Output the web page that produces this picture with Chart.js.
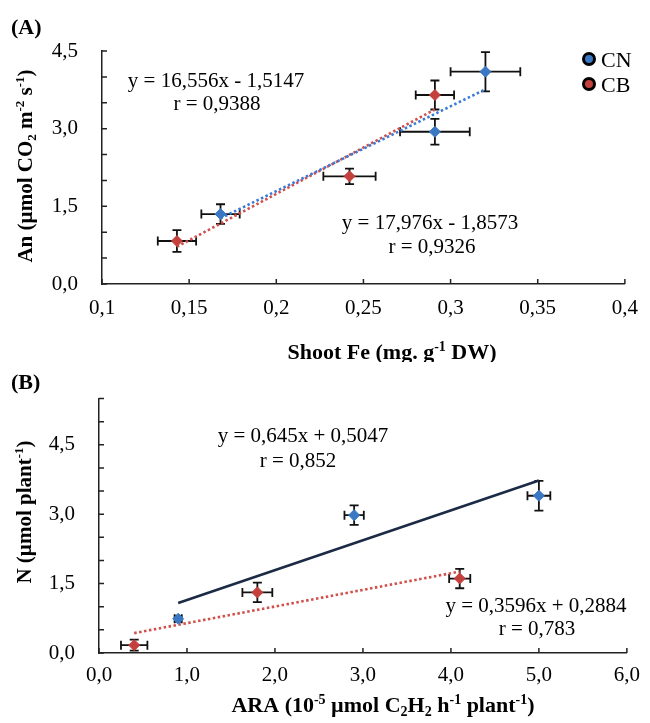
<!DOCTYPE html>
<html>
<head>
<meta charset="utf-8">
<script src="https://cdn.jsdelivr.net/npm/chart.js@4.4.0/dist/chart.umd.min.js"></script>
<style>
html, body { margin: 0; padding: 0; background: #fff; }
#wrap { position: relative; width: 650px; height: 723px; }
.pane { position: absolute; left: 0; width: 650px; }
</style>
</head>
<body>
<div id="wrap">
  <div class="pane" style="top:0;height:362px"><canvas id="chartA"></canvas></div>
  <div class="pane" style="top:362px;height:361px"><canvas id="chartB"></canvas></div>
</div>
<script>
// (A) shoot Fe vs An
const feCN = [0.168, 0.291, 0.32];
const anCN = [1.35, 2.94, 4.10];
const feErrCN = [0.011, 0.02, 0.02];
const anErrCN = [0.19, 0.25, 0.38];
const feCB = [0.143, 0.242, 0.291];
const anCB = [0.83, 2.08, 3.65];
const feErrCB = [0.011, 0.015, 0.011];
const anErrCB = [0.21, 0.15, 0.28];
const fitA_CN = [[0.168, 1.27], [0.32, 3.76]];
const fitA_CB = [[0.143, 0.72], [0.291, 3.37]];
const eqA = ['y = 16,556x - 1,5147', 'r = 0,9388', 'y = 17,976x - 1,8573', 'r = 0,9326'];

// (B) ARA vs N
const araCN = [0.9, 2.9, 5.0];
const nCN = [0.74, 2.98, 3.40];
const araErrCN = [0.04, 0.11, 0.13];
const nErrCN = [0.06, 0.21, 0.32];
const araCB = [0.4, 1.8, 4.1];
const nCB = [0.17, 1.31, 1.61];
const araErrCB = [0.15, 0.17, 0.12];
const nErrCB = [0.12, 0.21, 0.21];
const fitB_CN = [[0.9, 1.08], [5.0, 3.73]];
const fitB_CB = [[0.4, 0.43], [4.1, 1.76]];
const eqB = ['y = 0,645x + 0,5047', 'r = 0,852', 'y = 0,3596x + 0,2884', 'r = 0,783'];

const seriesNames = ['CN', 'CB'];
const BLUE = '#3b78c3', RED = '#c4403d';
const FAM = '"Liberation Serif", "Times New Roman", serif';

Chart.defaults.font.family = FAM;
Chart.defaults.color = '#000';

const pts = (xs, ys) => xs.map((x, i) => ({ x: x, y: ys[i] }));
const seg = a => a.map(p => ({ x: p[0], y: p[1] }));
const comma = s => s.replace('.', ',');

// text with sub/superscripts, parts = [[text, 0|1|-1], ...]
function rich(ctx, parts, x, y, size, bold, align) {
  const w = bold ? 'bold ' : '';
  const fnt = p => w + (p[1] ? Math.round(size * 0.62) : size) + 'px ' + FAM;
  let total = 0;
  parts.forEach(p => { ctx.font = fnt(p); total += ctx.measureText(p[0]).width; });
  let cx = align === 'center' ? x - total / 2 : x;
  ctx.textAlign = 'left';
  ctx.textBaseline = 'alphabetic';
  parts.forEach(p => {
    ctx.font = fnt(p);
    const dy = p[1] === 1 ? -size * 0.36 : (p[1] === -1 ? size * 0.18 : 0);
    ctx.fillText(p[0], cx, y + size * 0.33 + dy);
    cx += ctx.measureText(p[0]).width;
  });
}

const errorBars = {
  id: 'errorBars',
  beforeDatasetsDraw(chart) {
    const { ctx, scales: { x, y } } = chart;
    ctx.save();
    ctx.strokeStyle = '#111';
    ctx.lineWidth = 1.8;
    chart.data.datasets.forEach(ds => {
      if (!ds.xErr) return;
      ds.data.forEach((p, i) => {
        const px = x.getPixelForValue(p.x), py = y.getPixelForValue(p.y);
        const x0 = x.getPixelForValue(p.x - ds.xErr[i]), x1 = x.getPixelForValue(p.x + ds.xErr[i]);
        const y0 = y.getPixelForValue(p.y - ds.yErr[i]), y1 = y.getPixelForValue(p.y + ds.yErr[i]);
        const c = 4.5;
        ctx.beginPath();
        ctx.moveTo(x0, py); ctx.lineTo(x1, py);
        ctx.moveTo(x0, py - c); ctx.lineTo(x0, py + c);
        ctx.moveTo(x1, py - c); ctx.lineTo(x1, py + c);
        ctx.moveTo(px, y0); ctx.lineTo(px, y1);
        ctx.moveTo(px - c, y0); ctx.lineTo(px + c, y0);
        ctx.moveTo(px - c, y1); ctx.lineTo(px + c, y1);
        ctx.stroke();
      });
    });
    ctx.restore();
  }
};

// small tick marks pointing into the plot
const innerTicks = {
  id: 'innerTicks',
  afterDraw(chart) {
    const { ctx, chartArea: a, scales: { x, y } } = chart;
    ctx.save();
    ctx.strokeStyle = '#222';
    ctx.lineWidth = 1.5;
    ctx.beginPath();
    x.ticks.forEach(t => { const px = x.getPixelForValue(t.value); ctx.moveTo(px, a.bottom); ctx.lineTo(px, a.bottom - 5); });
    y.ticks.forEach(t => { const py = y.getPixelForValue(t.value); ctx.moveTo(a.left, py); ctx.lineTo(a.left + 5, py); });
    ctx.stroke();
    ctx.restore();
  }
};

const labels = {
  id: 'labels',
  afterDraw(chart, args, o) {
    const ctx = chart.ctx;
    ctx.save();
    ctx.fillStyle = '#000';
    o.items.forEach(it => {
      if (it.rot) {
        ctx.save();
        ctx.translate(it.x, it.y);
        ctx.rotate(-Math.PI / 2);
        rich(ctx, it.parts, 0, 0, it.size, it.bold, 'center');
        ctx.restore();
      } else {
        rich(ctx, it.parts, it.x, it.y, it.size, it.bold, it.align || 'center');
      }
    });
    (o.legend || []).forEach(l => {
      ctx.beginPath();
      ctx.arc(l.x, l.y, 5.5, 0, Math.PI * 2);
      ctx.fillStyle = l.color;
      ctx.fill();
      ctx.lineWidth = 3;
      ctx.strokeStyle = '#000';
      ctx.stroke();
      ctx.fillStyle = '#000';
      rich(ctx, [[l.text, 0]], l.x + 12, l.y + 1, 22, false, 'left');
    });
    ctx.restore();
  }
};

function yLabel(v) {
  const k = v / 1.5;
  return Math.abs(k - Math.round(k)) < 1e-6 ? comma(v.toFixed(1)) : '';
}

function line2(d, color, dash, width) {
  return {
    type: 'line', data: seg(d), borderColor: color, borderWidth: width, borderDash: dash,
    pointRadius: 0, fill: false, tension: 0
  };
}

function makeChart(id, cfg) {
  const scatter = (xs, ys, xe, ye, color, name) => ({
    type: 'scatter', label: name, data: pts(xs, ys), xErr: xe, yErr: ye,
    pointStyle: 'rectRot', pointRadius: 5.5, backgroundColor: color, borderColor: color, borderWidth: 1
  });
  return new Chart(document.getElementById(id), {
    type: 'scatter',
    data: {
      datasets: [
        scatter(cfg.xs[0], cfg.ys[0], cfg.xe[0], cfg.ye[0], BLUE, seriesNames[0]),
        scatter(cfg.xs[1], cfg.ys[1], cfg.xe[1], cfg.ye[1], RED, seriesNames[1]),
        ...cfg.lines
      ]
    },
    options: {
      responsive: true,
      maintainAspectRatio: false,
      animation: false,
      layout: { padding: cfg.padding },
      plugins: { legend: { display: false }, tooltip: { enabled: false }, labels: { items: cfg.items, legend: cfg.legend } },
      scales: {
        x: {
          type: 'linear', min: cfg.xr[0], max: cfg.xr[1],
          grid: { display: false, drawTicks: false },
          border: { display: true, color: '#222', width: 1.5 },
          ticks: { stepSize: cfg.xr[2], padding: cfg.xPad, font: { size: 21 }, color: '#000', callback: cfg.xFmt, autoSkip: false, maxRotation: 0 },
          afterFit: s => { s.height = cfg.xh; }
        },
        y: {
          type: 'linear', min: 0, max: cfg.ymax,
          grid: { display: false, drawTicks: false },
          border: { display: true, color: '#222', width: 1.5 },
          ticks: { stepSize: 0.5, padding: 24, font: { size: 21 }, color: '#000', callback: yLabel, autoSkip: false },
          afterFit: s => { s.width = cfg.yw; }
        }
      }
    },
    plugins: [errorBars, innerTicks, labels]
  });
}

makeChart('chartA', {
  xs: [feCN, feCB], ys: [anCN, anCB], xe: [feErrCN, feErrCB], ye: [anErrCN, anErrCB],
  lines: [line2(fitA_CN, '#3a7bd5', [2.5, 2.5], 2.6), line2(fitA_CB, '#d0504c', [2.5, 2.5], 2.6)],
  xr: [0.1, 0.4, 0.05], ymax: 4.5,
  xFmt: v => comma(String(Math.round(v * 100) / 100)),
  padding: { left: 0, top: 51, right: 23, bottom: 0 }, yw: 102, xh: 78, xPad: 12,
  items: [
    { parts: [['(A)', 0]], x: 11, y: 27, size: 22, bold: true, align: 'left' },
    { parts: [[eqA[0], 0]], x: 216, y: 80, size: 21 },
    { parts: [[eqA[1], 0]], x: 217, y: 103, size: 21 },
    { parts: [[eqA[2], 0]], x: 430, y: 222, size: 21 },
    { parts: [[eqA[3], 0]], x: 432, y: 246, size: 21 },
    { parts: [['Shoot Fe (mg. g', 0], ['-1', 1], [' DW)', 0]], x: 392, y: 352, size: 22, bold: true },
    { parts: [['An (µmol CO', 0], ['2', -1], [' m', 0], ['-2', 1], [' s', 0], ['-1', 1], [')', 0]], x: 25, y: 166, size: 21, bold: true, rot: true }
  ],
  legend: [
    { x: 589, y: 59, color: BLUE, text: seriesNames[0] },
    { x: 589, y: 84, color: RED, text: seriesNames[1] }
  ]
});

makeChart('chartB', {
  xs: [araCN, araCB], ys: [nCN, nCB], xe: [araErrCN, araErrCB], ye: [nErrCN, nErrCB],
  lines: [line2(fitB_CN, '#1c2b45', [], 2.6), line2(fitB_CB, '#d0504c', [2.5, 2.5], 2.6)],
  xr: [0, 6, 1], ymax: 5.5,
  xFmt: v => comma(v.toFixed(1)),
  padding: { left: 0, top: 31, right: 15, bottom: 0 }, yw: 99, xh: 70, xPad: 10,
  items: [
    { parts: [['(B)', 0]], x: 11, y: 20, size: 22, bold: true, align: 'left' },
    { parts: [[eqB[0], 0]], x: 303, y: 73, size: 21 },
    { parts: [[eqB[1], 0]], x: 298, y: 98, size: 21 },
    { parts: [[eqB[2], 0]], x: 536, y: 243, size: 21 },
    { parts: [[eqB[3], 0]], x: 537, y: 266, size: 21 },
    { parts: [['ARA (10', 0], ['-5', 1], [' µmol C', 0], ['2', -1], ['H', 0], ['2', -1], [' h', 0], ['-1', 1], [' plant', 0], ['-1', 1], [')', 0]], x: 383, y: 343, size: 22, bold: true },
    { parts: [['N (µmol plant', 0], ['-1', 1], [')', 0]], x: 24, y: 150, size: 21, bold: true, rot: true }
  ]
});
</script>
</body>
</html>
